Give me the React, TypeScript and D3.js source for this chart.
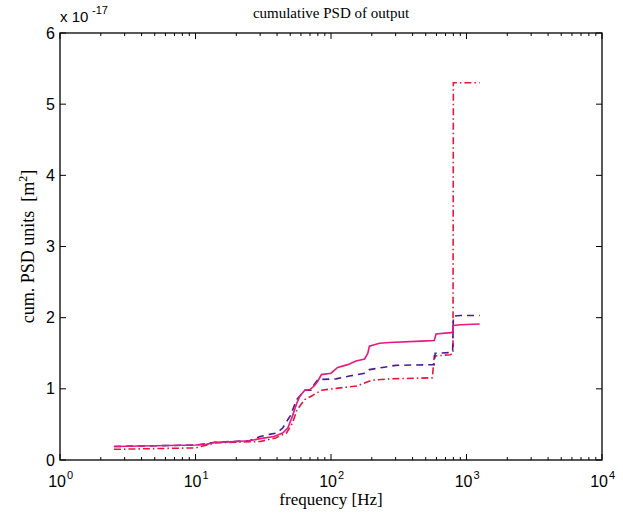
import React from "react";
import * as d3 from "d3";

const solidFreq = [2.5, 5, 10, 12, 14, 20, 25, 30, 38, 44, 48, 52, 56, 59, 64, 70, 76, 80, 85, 100, 112, 133, 153, 177, 187, 192, 228, 270, 462, 578, 596, 768, 790, 799, 900, 1250];
const solidVal = [0.19, 0.20, 0.21, 0.22, 0.25, 0.26, 0.27, 0.30, 0.33, 0.38, 0.45, 0.62, 0.80, 0.90, 0.98, 0.99, 1.05, 1.11, 1.20, 1.22, 1.30, 1.34, 1.39, 1.42, 1.50, 1.60, 1.64, 1.65, 1.67, 1.68, 1.77, 1.79, 1.80, 1.89, 1.90, 1.91];

const dashFreq = [2.5, 5, 10, 14, 25, 30, 35, 40, 44, 50, 56, 64, 72, 75, 80, 109, 137, 177, 192, 240, 300, 578, 587, 768, 790, 800, 900, 1250];
const dashVal = [0.19, 0.20, 0.21, 0.25, 0.27, 0.33, 0.36, 0.38, 0.45, 0.62, 0.85, 0.98, 0.98, 1.06, 1.13, 1.14, 1.18, 1.22, 1.27, 1.30, 1.33, 1.34, 1.50, 1.51, 1.53, 2.02, 2.03, 2.03];

const dotFreq = [2.5, 10, 14, 20, 30, 39, 47, 52, 56, 59, 64, 72, 85, 113, 155, 200, 270, 560, 578, 760, 795, 800, 1250];
const dotVal = [0.15, 0.17, 0.24, 0.25, 0.26, 0.31, 0.38, 0.52, 0.70, 0.76, 0.85, 0.90, 0.98, 1.01, 1.04, 1.12, 1.14, 1.155, 1.46, 1.48, 1.50, 5.30, 5.30];

const xTickExps = [0, 1, 2, 3, 4];
const yTicks = [0, 1, 2, 3, 4, 5, 6];

const W = 623, H = 519;
const L = 60, R = 602, T = 33, B = 460;

export default function App() {
  const x = d3.scaleLog().domain([1, 10000]).range([L, R]);
  const y = d3.scaleLinear().domain([0, 6]).range([B, T]);
  const line = d3.line<[number, number]>().x(d => x(d[0])).y(d => y(d[1]));
  const mk = (f: number[], v: number[]) => f.map((ff, i) => [ff, v[i]] as [number, number]);

  const minor: number[] = [];
  for (let e = 0; e < 4; e++) for (let k = 2; k <= 9; k++) minor.push(k * Math.pow(10, e));

  const tickFont = "'Liberation Sans', Arial, sans-serif";
  const serif = "'Liberation Serif', 'Times New Roman', serif";

  return (
    <svg width={W} height={H} style={{ position: "absolute", left: 0, top: 0, background: "#fff" }}>
      <rect x={0} y={0} width={W} height={H} fill="#fff" />
      {minor.map((m, i) => (
        <g key={"mn" + i} stroke="#000" strokeWidth={1}>
          <line x1={x(m)} x2={x(m)} y1={B} y2={B - 3} />
          <line x1={x(m)} x2={x(m)} y1={T} y2={T + 3} />
        </g>
      ))}
      {xTickExps.map(e => (
        <g key={"xt" + e}>
          <line x1={x(Math.pow(10, e))} x2={x(Math.pow(10, e))} y1={B} y2={B - 6} stroke="#000" />
          <line x1={x(Math.pow(10, e))} x2={x(Math.pow(10, e))} y1={T} y2={T + 6} stroke="#000" />
          <text x={x(Math.pow(10, e)) + 6} y={487} fontFamily={tickFont} fontSize={16} textAnchor="end" fill="#000">
            10
          </text>
          <text x={x(Math.pow(10, e)) + 7} y={479} fontFamily={tickFont} fontSize={11} textAnchor="start" fill="#000">
            {e}
          </text>
        </g>
      ))}
      {yTicks.map(t => (
        <g key={"yt" + t}>
          <line x1={L} x2={L + 6} y1={y(t)} y2={y(t)} stroke="#000" />
          <line x1={R} x2={R - 6} y1={y(t)} y2={y(t)} stroke="#000" />
          <text x={55} y={y(t) + 5.5} fontFamily={tickFont} fontSize={16} textAnchor="end" fill="#000">
            {t}
          </text>
        </g>
      ))}
      <rect x={L} y={T} width={R - L} height={B - T} fill="none" stroke="#000" strokeWidth={1.3} />
      <text x={60} y={22} fontFamily={tickFont} fontSize={15} fill="#000">x 10</text>
      <text x={92} y={14} fontFamily={tickFont} fontSize={11} fill="#000">-17</text>
      <text x={(L + R) / 2} y={18} fontFamily={serif} fontSize={15} textAnchor="middle" fill="#000">
        cumulative PSD of output
      </text>
      <text x={(L + R) / 2} y={505} fontFamily={serif} fontSize={17} textAnchor="middle" fill="#000">
        frequency [Hz]
      </text>
      <text transform={`translate(34, ${(T + B) / 2}) rotate(-90)`} fontFamily={serif} fontSize={18} textAnchor="middle" fill="#000" style={{ whiteSpace: "pre" }}>
        {"cum. PSD units  [m"}<tspan fontSize={12} dy={-7}>2</tspan><tspan dy={7}>]</tspan>
      </text>
      <path d={line(mk(dotFreq, dotVal)) || ""} fill="none" stroke="#e8173a" strokeWidth={1.6} strokeDasharray="7,3,1.5,3" />
      <path d={line(mk(dashFreq, dashVal)) || ""} fill="none" stroke="#4a1d8f" strokeWidth={1.6} strokeDasharray="7,5" />
      <path d={line(mk(solidFreq, solidVal)) || ""} fill="none" stroke="#e8197f" strokeWidth={1.6} />
    </svg>
  );
}
